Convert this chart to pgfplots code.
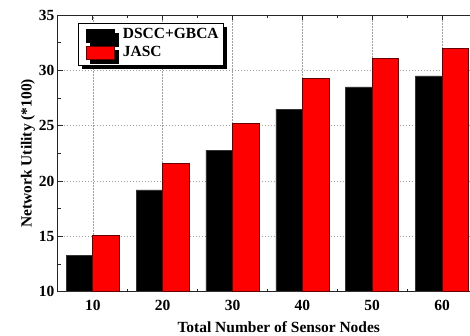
\documentclass[border=0pt]{standalone}
\usepackage{pgfplots}
\pgfplotsset{compat=1.18}
\usepackage{fontspec}
\setmainfont{Liberation Serif}
\usetikzlibrary{shadows}
\newcommand\lab{\fontsize{15.5bp}{18bp}\selectfont\bfseries}
\begin{document}
\begin{tikzpicture}
\begin{axis}[
  scale only axis, width=412bp, height=277bp,
  xmin=5, xmax=63.94, ymin=10, ymax=35,
  axis x line*=box, axis y line*=left,
  xtick={10,20,...,60}, ytick={10,15,...,35},
  minor x tick num=1, minor y tick num=1,
  tick align=inside,
  major tick length=5bp, minor tick length=3bp,
  grid=major,
  grid style={gray!75, line width=0.7bp, dash pattern=on 1.5bp off 1.5bp},
  axis line style={line width=0.9bp, black!85},
  every tick/.style={black!85, line width=0.8bp},
  /pgf/number format/assume math mode=true,
  tick label style={font=\lab},
  xticklabel style={anchor=base, yshift=-19bp},
  every axis x label/.style={at={(rel axis cs:0,0)}, xshift=221bp, yshift=-40.7bp, anchor=base, font=\lab},
  every axis y label/.style={at={(rel axis cs:0,0.5)}, xshift=-26.3bp, rotate=90, anchor=base, font=\lab},
  xlabel={Total Number of Sensor Nodes},
  ylabel={Network Utility (*100)},
  bar width=3.8,
  legend style={at={(rel axis cs:0.0485,0.9711)}, anchor=north west,
    draw=black, line width=0.9bp, font=\lab, fill=white,
    inner xsep=0bp, inner ysep=3.3bp,
    nodes={inner xsep=4.7bp, inner ysep=1.25bp, text height=11bp, text depth=4bp},
    drop shadow={shadow xshift=4bp, shadow yshift=-4bp, fill=black, opacity=1}},
  legend cell align=left,
]
\addlegendimage{legend image code/.code={%
    \path (0bp,-6.5bp) (39bp,6.5bp);
    \draw[solid, fill=black, draw=black, line width=0.6bp] (8bp,-6.5bp) rectangle (36bp,6.5bp);}}
\addlegendentry{DSCC+GBCA}
\addlegendimage{legend image code/.code={%
    \path (0bp,-6.5bp) (39bp,6.5bp);
    \draw[solid, fill=red, draw=red!40!black, line width=0.6bp] (8bp,-6.5bp) rectangle (36bp,6.5bp);}}
\addlegendentry{JASC}
\addplot[ybar, bar shift=-1.9, fill=black, draw=black!80, line width=0.5bp, forget plot]
  coordinates {(10,13.3) (20,19.2) (30,22.8) (40,26.5) (50,28.5) (60,29.5)};
\addplot[ybar, bar shift=1.9, fill=red, draw=red!40!black, line width=0.8bp, forget plot]
  coordinates {(10,15.1) (20,21.6) (30,25.2) (40,29.3) (50,31.1) (60,32.0)};
\end{axis}
\path (-58bp,-42bp) rectangle (412bp,292bp);
\end{tikzpicture}
\end{document}
